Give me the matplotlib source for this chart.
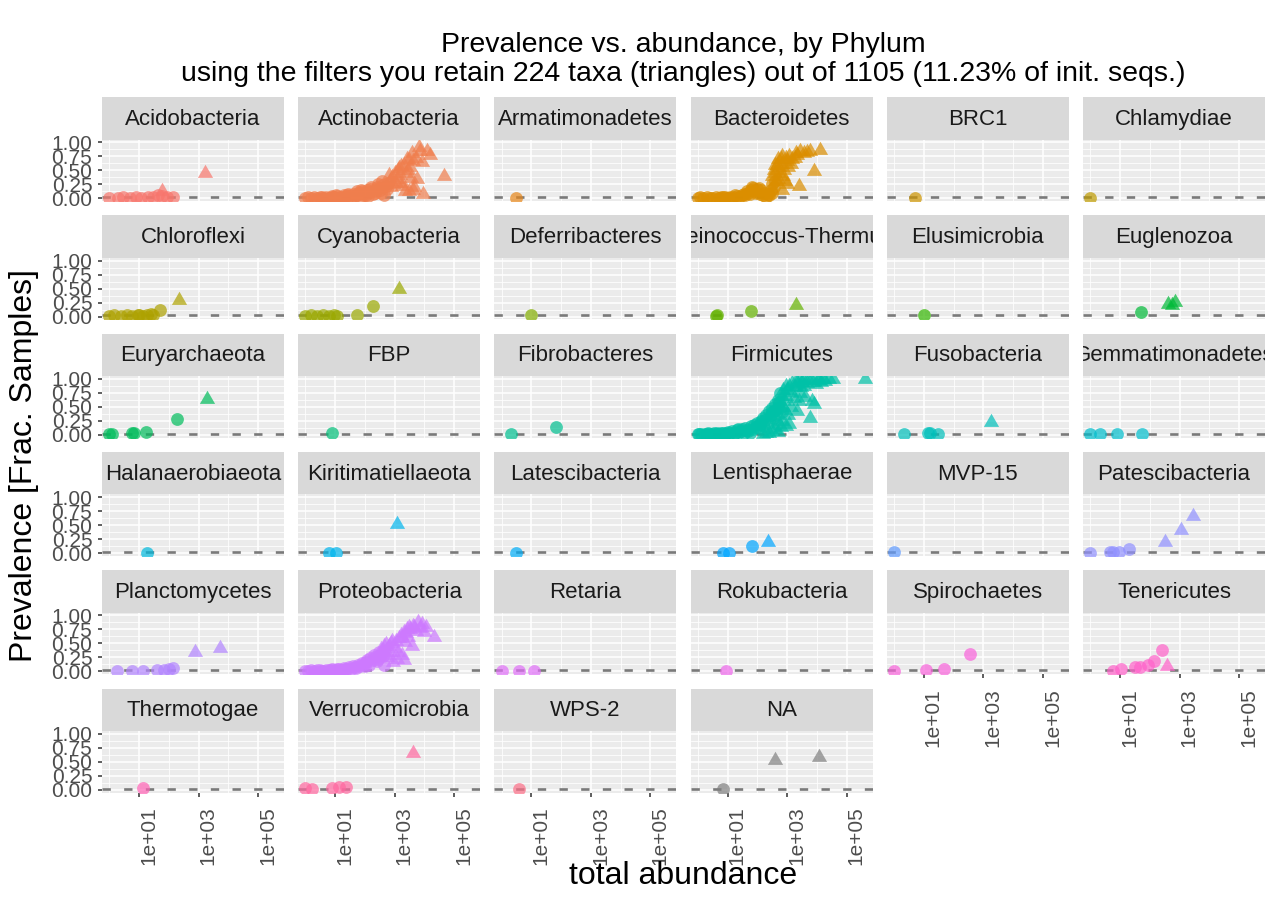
import math
import matplotlib
matplotlib.use("Agg")
import matplotlib.pyplot as plt
from matplotlib.path import Path

plt.rcParams['font.family'] = ['Liberation Sans', 'DejaVu Sans']
plt.rcParams['lines.scale_dashes'] = False

# ---------------- texts ----------------
title = "Prevalence vs. abundance, by Phylum"
subtitle = "using the filters you retain 224 taxa (triangles) out of 1105 (11.23% of init. seqs.)"
x_label = "total abundance"
y_label = "Prevalence [Frac. Samples]"

phyla = ["Acidobacteria", "Actinobacteria", "Armatimonadetes", "Bacteroidetes", "BRC1", "Chlamydiae",
         "Chloroflexi", "Cyanobacteria", "Deferribacteres", "Deinococcus-Thermus", "Elusimicrobia", "Euglenozoa",
         "Euryarchaeota", "FBP", "Fibrobacteres", "Firmicutes", "Fusobacteria", "Gemmatimonadetes",
         "Halanaerobiaeota", "Kiritimatiellaeota", "Latescibacteria", "Lentisphaerae", "MVP-15", "Patescibacteria",
         "Planctomycetes", "Proteobacteria", "Retaria", "Rokubacteria", "Spirochaetes", "Tenericutes",
         "Thermotogae", "Verrucomicrobia", "WPS-2", "NA"]

y_ticks = [0.0, 0.25, 0.5, 0.75, 1.0]
y_tick_labels = ["0.00", "0.25", "0.50", "0.75", "1.00"]
y_minor = [0.125, 0.375, 0.625, 0.875]
x_ticks = [1e1, 1e3, 1e5]
x_tick_labels = ["1e+01", "1e+03", "1e+05"]
x_minor = [1e0, 1e2, 1e4]
prevalence_threshold = 0.02

# ---------------- data: (total abundance, prevalence) ----------------
acidobacteria_out = [(1, 0.01), (2, 0.01), (3, 0.02), (5, 0.01), (8, 0.02), (12, 0.01), (20, 0.02),
                     (30, 0.03), (45, 0.05), (60, 0.04), (90, 0.02), (140, 0.03)]
acidobacteria_kept = [(60, 0.12), (1600, 0.45)]

actinobacteria_out = [(1, 0.01), (1.2, 0.02), (1.5, 0.01), (2, 0.02), (2.5, 0.01), (3, 0.02), (3.5, 0.03),
                      (4, 0.01), (5, 0.02), (6, 0.01), (7, 0.03), (8, 0.04), (9, 0.02), (10, 0.01), (11, 0.06),
                      (12, 0.04), (14, 0.01), (15, 0.03), (18, 0.02), (20, 0.05), (22, 0.03), (25, 0.06),
                      (28, 0.08), (30, 0.04), (35, 0.02), (40, 0.08), (45, 0.04), (50, 0.06), (55, 0.12),
                      (60, 0.1), (65, 0.07), (70, 0.03), (75, 0.15), (80, 0.12), (90, 0.05), (100, 0.09),
                      (110, 0.06), (120, 0.14), (130, 0.04), (140, 0.11), (150, 0.16), (160, 0.2), (180, 0.07),
                      (200, 0.12), (220, 0.09), (250, 0.2), (280, 0.26), (300, 0.18), (320, 0.14), (350, 0.1),
                      (380, 0.3), (400, 0.24), (450, 0.05), (500, 0.22), (550, 0.16), (600, 0.28)]
actinobacteria_kept = [(650, 0.42), (700, 0.3), (750, 0.2), (800, 0.38), (900, 0.25), (1000, 0.45),
                       (1100, 0.28), (1200, 0.35), (1300, 0.5), (1400, 0.54), (1500, 0.42), (1600, 0.58),
                       (1700, 0.22), (1800, 0.28), (2000, 0.6), (2200, 0.12), (2400, 0.45), (2500, 0.7),
                       (2800, 0.5), (3000, 0.69), (3000, 0.13), (3300, 0.55), (3500, 0.36), (3800, 0.8),
                       (4000, 0.66), (4200, 0.15), (4500, 0.2), (5000, 0.72), (5600, 0.34), (6500, 0.92),
                       (7000, 0.85), (8000, 0.65), (9000, 0.07), (12000, 0.84), (15000, 0.78), (45000, 0.39)]

armatimonadetes_out = [(3, 0.01)]
armatimonadetes_kept = []

bacteroidetes_out = [(1, 0.01), (1.2, 0.02), (1.5, 0.01), (2, 0.02), (2.5, 0.01), (3, 0.01), (4, 0.02),
                     (5, 0.01), (6, 0.03), (7, 0.02), (8, 0.02), (10, 0.01), (12, 0.03), (15, 0.02), (18, 0.05),
                     (20, 0.04), (25, 0.03), (30, 0.05), (35, 0.08), (40, 0.06), (45, 0.12), (50, 0.1),
                     (55, 0.08), (60, 0.14), (65, 0.2), (70, 0.18), (80, 0.12), (90, 0.1), (100, 0.16),
                     (110, 0.18), (120, 0.08), (130, 0.14), (150, 0.05), (170, 0.1), (200, 0.03), (220, 0.08),
                     (250, 0.06), (280, 0.15), (300, 0.1), (320, 0.25), (350, 0.2), (400, 0.3)]
bacteroidetes_kept = [(300, 0.4), (350, 0.5), (380, 0.6), (400, 0.45), (420, 0.3), (450, 0.6), (480, 0.7),
                      (500, 0.35), (520, 0.45), (550, 0.55), (600, 0.7), (650, 0.75), (700, 0.62), (700, 0.15),
                      (750, 0.4), (800, 0.5), (850, 0.3), (900, 0.72), (1000, 0.66), (1000, 0.25), (1100, 0.55),
                      (1200, 0.75), (1300, 0.62), (1500, 0.7), (1800, 0.72), (2000, 0.8), (2200, 0.78),
                      (2500, 0.22), (2800, 0.85), (3600, 0.8), (4500, 0.82), (6000, 0.84), (8000, 0.48),
                      (13000, 0.86)]

brc1_out = [(5, 0.01)]
brc1_kept = []
chlamydiae_out = [(1, 0.01)]
chlamydiae_kept = []

chloroflexi_out = [(1, 0.01), (1.5, 0.02), (2.5, 0.01), (4, 0.02), (6, 0.01), (9, 0.02), (10, 0.03),
                   (14, 0.01), (18, 0.02), (25, 0.04), (30, 0.03), (50, 0.12)]
chloroflexi_kept = [(230, 0.29)]

cyanobacteria_out = [(1, 0.01), (1.5, 0.02), (2.5, 0.01), (4, 0.02), (6, 0.01), (9, 0.02), (12, 0.01),
                     (55, 0.02), (180, 0.18)]
cyanobacteria_kept = [(1400, 0.49)]

deferribacteres_out = [(10, 0.03)]
deferribacteres_kept = []

deinococcus_out = [(4, 0.01), (4.5, 0.02), (60, 0.1)]
deinococcus_kept = [(2000, 0.2)]

elusimicrobia_out = [(10, 0.03)]
elusimicrobia_kept = []

euglenozoa_out = [(50, 0.08)]
euglenozoa_kept = [(400, 0.23), (550, 0.2), (700, 0.26)]

euryarchaeota_out = [(1, 0.01), (1.2, 0.02), (6, 0.03), (7, 0.04), (17, 0.05), (190, 0.28)]
euryarchaeota_kept = [(2000, 0.64)]

fbp_out = [(8, 0.04)]
fbp_kept = []

fibrobacteres_out = [(2, 0.01), (66, 0.14)]
fibrobacteres_kept = []

firmicutes_out = [(1, 0.01), (1.1, 0.02), (1.3, 0.01), (1.7, 0.02), (2, 0.01), (2.2, 0.03), (2.5, 0.02),
                  (3, 0.01), (3.5, 0.03), (4, 0.02), (4.5, 0.04), (5, 0.01), (6, 0.03), (7, 0.04), (8, 0.02),
                  (9, 0.03), (10, 0.05), (12, 0.03), (14, 0.06), (16, 0.02), (18, 0.04), (20, 0.08),
                  (22, 0.1), (25, 0.05), (28, 0.06), (30, 0.1), (35, 0.03), (40, 0.12), (45, 0.09), (50, 0.07),
                  (55, 0.04), (60, 0.15), (70, 0.1), (80, 0.18), (90, 0.14), (100, 0.22), (110, 0.12),
                  (120, 0.2), (130, 0.25), (150, 0.3), (170, 0.16), (180, 0.26), (200, 0.35), (220, 0.22),
                  (250, 0.42), (280, 0.36), (300, 0.48), (320, 0.4), (350, 0.3), (380, 0.45), (400, 0.55),
                  (420, 0.36), (450, 0.2), (480, 0.5), (500, 0.62), (550, 0.58), (570, 0.74), (600, 0.5),
                  (700, 0.4)]
firmicutes_kept = [(150, 0.02), (200, 0.04), (250, 0.03), (300, 0.06), (400, 0.1), (500, 0.05), (600, 0.14),
                   (650, 0.7), (700, 0.25), (750, 0.8), (800, 0.6), (850, 0.45), (900, 0.7), (900, 0.15),
                   (950, 0.88), (1000, 0.8), (1100, 0.35), (1200, 0.88), (1200, 0.2), (1300, 0.5),
                   (1400, 0.76), (1500, 0.92), (1700, 0.65), (1800, 0.85), (2000, 0.96), (2200, 0.42),
                   (2300, 0.9), (2500, 1.0), (2600, 0.6), (2800, 0.75), (3000, 0.85), (3200, 0.95),
                   (3500, 0.98), (3800, 0.88), (4000, 0.68), (4500, 0.92), (5000, 1.0), (6000, 0.3),
                   (6500, 0.98), (7000, 0.61), (7500, 0.95), (8000, 0.55), (9000, 0.9), (11000, 1.0),
                   (12000, 0.98), (14000, 0.95), (16000, 1.0), (19000, 0.97), (25000, 1.0), (35000, 1.0),
                   (410000, 1.0)]

fusobacteria_out = [(2.2, 0.02), (14, 0.04), (16, 0.03), (30, 0.02)]
fusobacteria_kept = [(1800, 0.23)]

gemmatimonadetes_out = [(1, 0.02), (2.2, 0.02), (8, 0.02), (55, 0.02)]
gemmatimonadetes_kept = []

halanaerobiaeota_out = [(18, 0.01)]
halanaerobiaeota_kept = []

kiritimatiellaeota_out = [(6, 0.01), (11, 0.01)]
kiritimatiellaeota_kept = [(1200, 0.52)]

latescibacteria_out = [(3, 0.01)]
latescibacteria_kept = []

lentisphaerae_out = [(7, 0.01), (11, 0.01), (68, 0.12)]
lentisphaerae_kept = [(220, 0.2)]

mvp15_out = [(1, 0.02)]
mvp15_kept = []

patescibacteria_out = [(1, 0.01), (4.5, 0.02), (6, 0.02), (9.5, 0.02), (20, 0.07)]
patescibacteria_kept = [(330, 0.2), (1100, 0.41), (2800, 0.66)]

planctomycetes_out = [(1.8, 0.01), (6, 0.01), (14, 0.01), (40, 0.02), (68, 0.03), (100, 0.04), (140, 0.06)]
planctomycetes_kept = [(780, 0.35), (5400, 0.41)]

proteobacteria_out = [(1, 0.01), (1.2, 0.01), (1.5, 0.02), (2, 0.01), (2.5, 0.02), (3, 0.02), (3.5, 0.01),
                      (4, 0.01), (5, 0.03), (6, 0.02), (7, 0.03), (8, 0.04), (9, 0.01), (10, 0.02), (12, 0.05),
                      (14, 0.04), (15, 0.03), (18, 0.02), (20, 0.06), (22, 0.05), (25, 0.04), (30, 0.08),
                      (35, 0.04), (40, 0.1), (45, 0.07), (50, 0.06), (60, 0.12), (70, 0.09), (80, 0.15),
                      (90, 0.13), (100, 0.1), (110, 0.16), (120, 0.2), (140, 0.12), (150, 0.24), (180, 0.2),
                      (200, 0.3), (220, 0.26), (250, 0.18), (280, 0.22), (300, 0.35), (350, 0.3), (400, 0.28),
                      (450, 0.12)]
proteobacteria_kept = [(350, 0.4), (400, 0.38), (450, 0.45), (500, 0.49), (550, 0.25), (600, 0.3),
                       (650, 0.45), (700, 0.35), (750, 0.5), (800, 0.55), (900, 0.16), (1000, 0.42),
                       (1100, 0.55), (1200, 0.22), (1300, 0.35), (1400, 0.6), (1600, 0.65), (1700, 0.3),
                       (1800, 0.6), (2000, 0.7), (2100, 0.2), (2200, 0.52), (2400, 0.68), (2600, 0.75),
                       (2800, 0.62), (3000, 0.8), (3300, 0.76), (3700, 0.46), (4000, 0.82), (4500, 0.8),
                       (5000, 0.72), (6000, 0.88), (7000, 0.78), (8000, 0.85), (10000, 0.7), (11000, 0.79),
                       (21000, 0.61)]

retaria_out = [(1, 0.01), (4, 0.01), (12, 0.01)]
retaria_kept = []

rokubacteria_out = [(9, 0.01)]
rokubacteria_kept = []

spirochaetes_out = [(1, 0.01), (12, 0.02), (48, 0.05), (350, 0.32)]
spirochaetes_kept = []

tenericutes_out = [(6, 0.01), (11, 0.04), (32, 0.07), (49, 0.08), (90, 0.12), (140, 0.18), (250, 0.39)]
tenericutes_kept = [(390, 0.1)]

thermotogae_out = [(14, 0.03)]
thermotogae_kept = []

verrucomicrobia_out = [(1, 0.03), (1.7, 0.02), (8, 0.03), (14, 0.04), (23, 0.04)]
verrucomicrobia_kept = [(4000, 0.66)]

wps2_out = [(4, 0.01)]
wps2_kept = []

na_out = [(7, 0.01)]
na_kept = [(400, 0.54), (12000, 0.59)]

panel_data = {
    "Acidobacteria": (acidobacteria_out, acidobacteria_kept),
    "Actinobacteria": (actinobacteria_out, actinobacteria_kept),
    "Armatimonadetes": (armatimonadetes_out, armatimonadetes_kept),
    "Bacteroidetes": (bacteroidetes_out, bacteroidetes_kept),
    "BRC1": (brc1_out, brc1_kept),
    "Chlamydiae": (chlamydiae_out, chlamydiae_kept),
    "Chloroflexi": (chloroflexi_out, chloroflexi_kept),
    "Cyanobacteria": (cyanobacteria_out, cyanobacteria_kept),
    "Deferribacteres": (deferribacteres_out, deferribacteres_kept),
    "Deinococcus-Thermus": (deinococcus_out, deinococcus_kept),
    "Elusimicrobia": (elusimicrobia_out, elusimicrobia_kept),
    "Euglenozoa": (euglenozoa_out, euglenozoa_kept),
    "Euryarchaeota": (euryarchaeota_out, euryarchaeota_kept),
    "FBP": (fbp_out, fbp_kept),
    "Fibrobacteres": (fibrobacteres_out, fibrobacteres_kept),
    "Firmicutes": (firmicutes_out, firmicutes_kept),
    "Fusobacteria": (fusobacteria_out, fusobacteria_kept),
    "Gemmatimonadetes": (gemmatimonadetes_out, gemmatimonadetes_kept),
    "Halanaerobiaeota": (halanaerobiaeota_out, halanaerobiaeota_kept),
    "Kiritimatiellaeota": (kiritimatiellaeota_out, kiritimatiellaeota_kept),
    "Latescibacteria": (latescibacteria_out, latescibacteria_kept),
    "Lentisphaerae": (lentisphaerae_out, lentisphaerae_kept),
    "MVP-15": (mvp15_out, mvp15_kept),
    "Patescibacteria": (patescibacteria_out, patescibacteria_kept),
    "Planctomycetes": (planctomycetes_out, planctomycetes_kept),
    "Proteobacteria": (proteobacteria_out, proteobacteria_kept),
    "Retaria": (retaria_out, retaria_kept),
    "Rokubacteria": (rokubacteria_out, rokubacteria_kept),
    "Spirochaetes": (spirochaetes_out, spirochaetes_kept),
    "Tenericutes": (tenericutes_out, tenericutes_kept),
    "Thermotogae": (thermotogae_out, thermotogae_kept),
    "Verrucomicrobia": (verrucomicrobia_out, verrucomicrobia_kept),
    "WPS-2": (wps2_out, wps2_kept),
    "NA": (na_out, na_kept),
}


# ---------------- ggplot2 hue palette ----------------
def hcl_hex(h, c, l):
    wx, wy, wz = 95.047, 100.0, 108.883
    wu, wv = 0.1978398, 0.4683363
    hr = math.radians(h)
    U, V = c * math.cos(hr), c * math.sin(hr)
    Y = wy * ((l + 16) / 116) ** 3 if l > 7.999592 else wy * l / 903.3
    u = U / (13 * l) + wu
    v = V / (13 * l) + wv
    X = 9.0 * Y * u / (4 * v)
    Z = -X / 3 - 5 * Y + 3 * Y / v

    def g(t):
        t = 1.055 * t ** (1 / 2.4) - 0.055 if t > 0.00304 else 12.92 * t
        return min(max(t, 0.0), 1.0)
    r = g((3.240479 * X - 1.537150 * Y - 0.498535 * Z) / wy)
    gg = g((-0.969256 * X + 1.875992 * Y + 0.041556 * Z) / wy)
    b = g((0.055648 * X - 0.204043 * Y + 1.057311 * Z) / wy)
    return (r, gg, b)


n_col = len(phyla) - 1
colors = {p: hcl_hex((15 + i * 360.0 / n_col) % 360, 100, 65) for i, p in enumerate(phyla[:-1])}
colors["NA"] = (0.5, 0.5, 0.5)

tri = Path([(0, 1), (-0.866, -0.5), (0.866, -0.5), (0, 1)],
           [Path.MOVETO, Path.LINETO, Path.LINETO, Path.CLOSEPOLY])

# ---------------- layout (pixels) ----------------
W, H = 1278, 899
fig = plt.figure(figsize=(W / 100, H / 100), dpi=100)
fig.patch.set_facecolor('white')

ncols = 6
col_left0, col_step, panel_w = 102, 196.2, 182
row_top0, row_step, panel_h = 139.5, 118.3, 61.5
strip_h = 42.5
n = len(phyla)
last_row_of_col = {}
for i in range(n):
    r, c = divmod(i, ncols)
    last_row_of_col[c] = r

xlo, xhi = 10 ** -0.24, 10 ** 5.87

for i, name in enumerate(phyla):
    r, c = divmod(i, ncols)
    left = col_left0 + c * col_step
    top = row_top0 + r * row_step
    ax = fig.add_axes([left / W, 1 - (top + panel_h) / H, panel_w / W, panel_h / H])
    ax.set_facecolor('#EBEBEB')
    for s in ax.spines.values():
        s.set_visible(False)
    ax.set_xscale('log')
    ax.set_xlim(xlo, xhi)
    ax.set_ylim(-0.05, 1.05)
    ax.set_xticks(x_ticks)
    ax.set_xticks(x_minor, minor=True)
    ax.set_yticks(y_ticks)
    ax.set_yticks(y_minor, minor=True)
    ax.grid(which='major', color='white', lw=1.1)
    ax.grid(which='minor', color='white', lw=0.55)
    ax.set_axisbelow(True)
    ax.tick_params(which='minor', length=0, labelbottom=False, labelleft=False)

    if c == 0:
        ax.set_yticklabels(y_tick_labels)
        ax.tick_params(axis='y', which='major', length=3, width=1.1, color='#333333',
                       labelsize=15, labelcolor='#4D4D4D', pad=4)
    else:
        ax.tick_params(axis='y', which='major', length=0, labelleft=False)

    if last_row_of_col[c] == r:
        ax.set_xticklabels(x_tick_labels, rotation=90, ha='left', va='top')
        ax.tick_params(axis='x', which='major', length=3, width=1.1, color='#333333',
                       labelsize=15, labelcolor='#4D4D4D', pad=7)
    else:
        ax.tick_params(axis='x', which='major', length=0, labelbottom=False)

    ax.axhline(prevalence_threshold, color='#7A7A7A', lw=1.9, dashes=(6, 9.6), zorder=3)

    out, kept = panel_data[name]
    col = colors[name]
    if out:
        ax.scatter([a for a, _ in out], [p for _, p in out], s=85, marker='o',
                   color=col, alpha=0.7, linewidths=0, zorder=4)
    if kept:
        ax.scatter([a for a, _ in kept], [p for _, p in kept], s=160, marker=tri,
                   color=col, alpha=0.7, linewidths=0, zorder=4)

    sax = fig.add_axes([left / W, 1 - top / H, panel_w / W, strip_h / H])
    sax.set_facecolor('#D9D9D9')
    sax.set_xticks([])
    sax.set_yticks([])
    for s in sax.spines.values():
        s.set_visible(False)
    t = sax.text(0.5, 0.48, name, ha='center', va='center', fontsize=16,
                 color='#1A1A1A', transform=sax.transAxes)
    t.set_clip_on(True)
    t.set_clip_box(sax.bbox)

panel_center_x = (col_left0 + 5 * col_step + panel_w + col_left0) / 2
fig.text(panel_center_x / W, 1 - 45 / H, title, ha='center', va='center', fontsize=20.5, color='black')
fig.text(panel_center_x / W, 1 - 74 / H, subtitle, ha='center', va='center', fontsize=20.5, color='black')
fig.text(panel_center_x / W, 1 - 876 / H, x_label, ha='center', va='center', fontsize=23, color='black')
y_mid = (row_top0 + (row_top0 + 5 * row_step + panel_h)) / 2
fig.text(24 / W, 1 - y_mid / H, y_label, ha='center', va='center', rotation=90, fontsize=23, color='black')

fig.savefig('out.png', dpi=100, facecolor='white')
